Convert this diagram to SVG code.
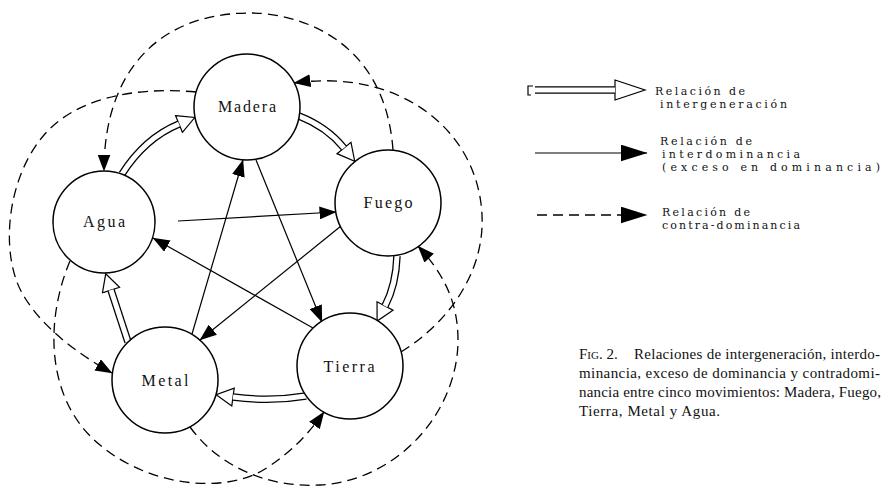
<svg xmlns="http://www.w3.org/2000/svg" width="882" height="486" viewBox="0 0 882 486">
<style>
.node circle{fill:#fff;stroke:#000;stroke-width:1.5}
.lbl{font-family:"Liberation Serif","Times New Roman",serif;font-size:16px;fill:#111;text-anchor:middle}
.solid{fill:none;stroke:#000;stroke-width:1.2;marker-end:url(#fh)}
.dash{fill:none;stroke:#000;stroke-width:1.3;stroke-dasharray:10 6;marker-end:url(#fh)}
.dbl{fill:none;stroke:#000;stroke-width:7.5;marker-end:url(#oh)}
.dblw{fill:none;stroke:#fff;stroke-width:5}
.leg{font-family:"DejaVu Serif","Liberation Serif",serif;font-size:11px;fill:#111}
.cap{font-family:"Liberation Serif","Times New Roman",serif;font-size:15px;fill:#111}
</style>
<defs>
<marker id="fh" markerUnits="userSpaceOnUse" viewBox="0 0 17 13" refX="16.5" refY="6.5" markerWidth="17" markerHeight="13" orient="auto">
<path d="M0,0 L17,6.5 L0,13 z" fill="#000"/>
</marker>
<marker id="oh" markerUnits="userSpaceOnUse" viewBox="-1 -10 20 20" refX="0" refY="0" markerWidth="20" markerHeight="20" orient="auto">
<path d="M0,-9 L17,0 L0,9 z" fill="#fff" stroke="#000" stroke-width="1.2"/>
</marker>
<marker id="ohL" markerUnits="userSpaceOnUse" viewBox="-1 -11 33 22" refX="0" refY="0" markerWidth="33" markerHeight="22" orient="auto">
<path d="M0,-10 L30,0 L0,10 z" fill="#fff" stroke="#000" stroke-width="1.2"/>
</marker>
<marker id="fhL" markerUnits="userSpaceOnUse" viewBox="0 0 27 17" refX="26.5" refY="8.5" markerWidth="27" markerHeight="17" orient="auto">
<path d="M0,0 L27,8.5 L0,17 z" fill="#000"/>
</marker>
</defs>

<g id="connectors">
<!-- interdominance -->
<path class="solid" d="M178,221 L336,212"/>
<path class="solid" d="M256,160 L322,322"/>
<path class="solid" d="M313,328 L153,238"/>
<path class="solid" d="M192,334 L243,160"/>
<path class="solid" d="M341,226 L200,340"/>
<!-- counter-dominance -->
<path class="dash" d="M393,150 C385,40 300,13 250,13 C160,13 104,70 104,171"/>
<path class="dash" d="M196,92 C130,86 70,100 40,140 C5,185 0,260 25,298 C45,330 80,355 112,373"/>
<path class="dash" d="M70,261 C45,320 45,400 100,445 C150,487 225,494 265,469 C290,453 307,436 324,412"/>
<path class="dash" d="M190,427 C220,468 270,488 320,485 C400,480 458,410 458,340 C458,300 442,272 418,246"/>
<path class="dash" d="M401,352 C445,325 485,275 482,215 C478,130 400,68 294,83"/>
<!-- intergeneration -->
<path class="dbl" d="M122,174 Q145,138 179,124"/><path class="dblw" d="M122,174 Q145,138 179,124"/>
<path class="dbl" d="M299,116 Q327,127 344,148"/><path class="dblw" d="M299,116 Q327,127 344,148"/>
<path class="dbl" d="M397,256 Q396,285 385,306"/><path class="dblw" d="M397,256 Q396,285 385,306"/>
<path class="dbl" d="M306,396 Q270,402 233,397"/><path class="dblw" d="M306,396 Q270,402 233,397"/>
<path class="dbl" d="M128,342 L111,290"/><path class="dblw" d="M128,342 L111,290"/>
</g>

<g id="madera" class="node"><circle cx="247" cy="107" r="53"/><text class="lbl" x="247" y="112" textLength="58">Madera</text></g>
<g id="fuego" class="node"><circle cx="388" cy="203" r="53"/><text class="lbl" x="388" y="208" textLength="49">Fuego</text></g>
<g id="agua" class="node"><circle cx="104" cy="222" r="51"/><text class="lbl" x="104" y="227" textLength="42">Agua</text></g>
<g id="metal" class="node"><circle cx="165" cy="380" r="53"/><text class="lbl" x="165" y="386" textLength="47">Metal</text></g>
<g id="tierra" class="node"><circle cx="350" cy="366" r="53"/><text class="lbl" x="349" y="372" textLength="51">Tierra</text></g>

<g id="legend">
<path d="M533,86 L528,86 L528,95 L531,95" fill="none" stroke="#000" stroke-width="1.2"/>
<path d="M535,90 L615,90" fill="none" stroke="#000" stroke-width="7.5" marker-end="url(#ohL)"/>
<path d="M535,90 L615,90" fill="none" stroke="#fff" stroke-width="5"/>
<text class="leg" x="655" y="95" textLength="90">Relación de</text>
<text class="leg" x="660" y="108" textLength="127">intergeneración</text>
<path d="M535,153 L647,153" fill="none" stroke="#000" stroke-width="1.2" marker-end="url(#fhL)"/>
<text class="leg" x="660" y="145" textLength="92">Relación de</text>
<text class="leg" x="662" y="158" textLength="138">interdominancia</text>
<text class="leg" x="662" y="171" textLength="218">(exceso en dominancia)</text>
<path d="M537,215 L647,215" fill="none" stroke="#000" stroke-width="1.3" stroke-dasharray="10 6" marker-end="url(#fhL)"/>
<text class="leg" x="662" y="216" textLength="88">Relación de</text>
<text class="leg" x="662" y="229" textLength="138">contra-dominancia</text>
</g>

<g id="caption">
<text class="cap" x="579" y="359">F<tspan font-size="11">IG</tspan>. 2.</text>
<text class="cap" x="634" y="359" textLength="246">Relaciones de intergeneración, interdo-</text>
<text class="cap" x="579" y="378" textLength="301">minancia, exceso de dominancia y contradomi-</text>
<text class="cap" x="579" y="397" textLength="302">nancia entre cinco movimientos: Madera, Fuego,</text>
<text class="cap" x="579" y="416" textLength="141">Tierra, Metal y Agua.</text>
</g>
</svg>
